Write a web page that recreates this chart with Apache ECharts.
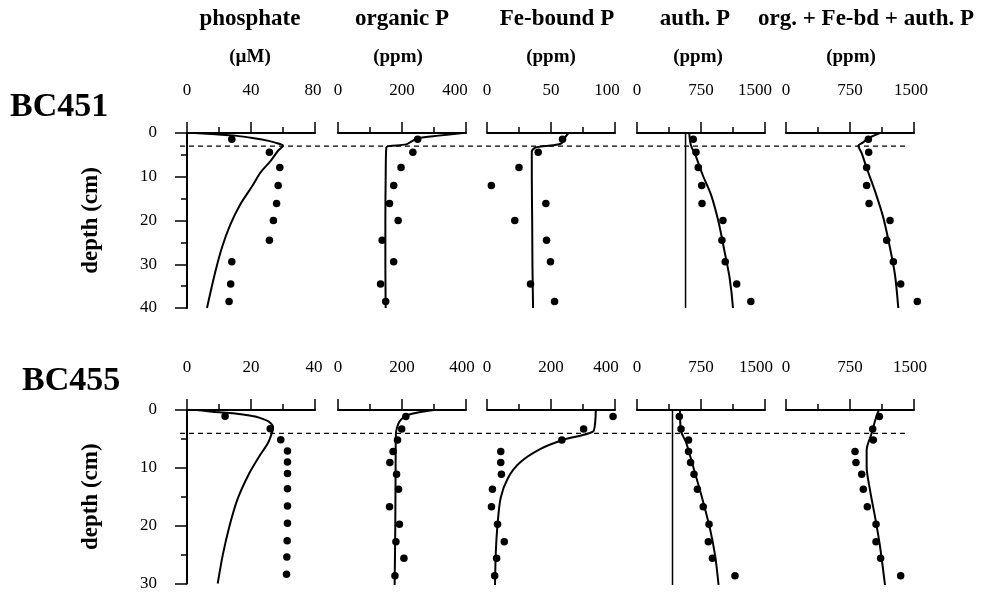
<!DOCTYPE html>
<html><head><meta charset="utf-8">
<script src="https://cdn.jsdelivr.net/npm/echarts@6/dist/echarts.min.js"></script>
<style>html,body{margin:0;padding:0;background:#fff}#c{width:989px;height:592px}</style>
</head><body><div id="c"></div>
<script>
const FONT = '"Liberation Serif","Times New Roman",Times,serif';
const panelTitles = ['phosphate', 'organic P', 'Fe-bound P', 'auth. P', 'org. + Fe-bd + auth. P'];
const panelUnits = ['(µM)', '(ppm)', '(ppm)', '(ppm)', '(ppm)'];
const cores = ['BC451', 'BC455'];
const xMaxTop = [80, 400, 100, 1500, 1500];
const xIntTop = [40, 200, 50, 750, 750];
const xMaxBot = [40, 400, 400, 1500, 1500];
const xIntBot = [20, 200, 200, 750, 750];
const depthMax = [40, 30];
const boundaryDepth = [3, 4];

// ---- BC451 measured samples ----
const depth451 = [1.45, 4.4, 7.9, 12.0, 16.1, 20.0, 24.5, 29.4, 34.5, 38.5];
const phos451 = [28, 51.5, 58, 57, 56, 54, 51.5, 28, 27.3, 26.3];
const orgP451 = [249, 234, 197, 174, 161, 188, 138, 174, 133, 149];
const feP451 = [59, 40, 25, 3.4, 46, 21.7, 46.5, 49.6, 34, 52.8];
const authP451 = [659, 691, 718, 758, 762, 1007, 995, 1034, 1168, 1334];
const sumP451 = [965, 969, 945, 945, 973, 1219, 1180, 1258, 1344, 1539];

// ---- BC451 model curves ----
const cDepthPhos451 = [0, 0.3, 0.6, 1.2, 1.8, 2.4, 2.9, 4, 6.5, 9, 12, 16.5, 21, 26, 32, 40];
const cPhos451 = [5, 18, 30, 42, 51, 57, 60, 57, 52, 46, 41, 33, 27, 22, 17.5, 12.5];
const cDepthOrg451 = [0, 0.6, 1.2, 2.0, 2.6, 3.0, 3.3, 10, 20, 30, 40];
const cOrg451 = [390, 315, 250, 228, 213, 160, 151, 149, 148, 148, 149];
const cDepthFe451 = [0, 1, 2.36, 2.8, 3.1, 3.35, 4.3, 10, 20, 30, 40];
const cFe451 = [63.6, 61, 58.2, 52, 42, 37.6, 35, 35, 35.3, 35.5, 36];
const cDepthAuth451 = [0, 2.8, 5.4, 9.6, 14.2, 20.3, 27.1, 33.2, 40];
const cAuth451 = [612, 632, 691, 770, 869, 955, 1026, 1086, 1125];
const cDepthSum451 = [0, 0.6, 1.2, 2.2, 2.9, 4.6, 8, 13.3, 19.4, 26.3, 32.4, 40];
const cSum451 = [1100, 1030, 965, 900, 848, 887, 945, 1043, 1141, 1219, 1277, 1316];
const refAuth451 = 569;

// ---- BC455 measured samples ----
const depth455 = [1.1, 3.26, 5.14, 7.1, 9.0, 11.0, 13.6, 16.6, 19.6, 22.6, 25.4, 28.4];
const phos455 = [11.9, 26, 29.3, 31.4, 31.4, 31.4, 31.4, 31.4, 31.4, 31.3, 31.2, 31.1];
const orgP455 = [212, 199, 186, 172, 162, 183, 189, 161, 192, 181, 206, 178];
const feP455 = [394, 302, 234, 43, 43, 45, 17, 14, 33, 54, 30, 24];
const authP455 = [496, 516, 604, 604, 628, 668, 708, 776, 844, 836, 884, 1148];
const sumP455 = [1094, 1016, 1023, 809, 820, 887, 906, 953, 1055, 1055, 1109, 1344];

// ---- BC455 model curves ----
const cDepthPhos455 = [0, 0.3, 0.6, 1.0, 1.4, 2.0, 3.0, 4.0, 5.7, 8, 10.9, 15.4, 20, 25, 30];
const cPhos455 = [3, 8, 15, 20, 23, 25.5, 26.9, 26.5, 25.3, 22.6, 19.5, 15.8, 13.3, 11.2, 9.6];
const cDepthOrg455 = [0, 0.3, 0.7, 1.14, 2, 2.9, 4, 10, 20, 30];
const cOrg455 = [300, 262, 228, 208, 192, 185, 181, 180, 179, 177];
const cDepthFe455 = [0, 3.5, 4.0, 4.4, 5.1, 6.7, 9, 11.6, 15, 19.6, 24.3, 30];
const cFe455 = [340, 334, 318, 292, 239, 166, 103, 66, 43, 33, 27.6, 25];
const cDepthAuth455 = [0, 3.6, 5.6, 9.6, 14.7, 20.4, 25, 30];
const cAuth455 = [504, 516, 576, 656, 756, 856, 916, 956];
const cDepthSum455 = [0, 0.2, 1.9, 4, 6.9, 9.7, 13.7, 18.3, 23.4, 30];
const cSum455 = [1090, 1082, 1043, 1004, 945, 945, 984, 1043, 1102, 1160];
const refAuth455 = 416;

// ---- assembling ----
const samples = [
  [depth451, [phos451, orgP451, feP451, authP451, sumP451]],
  [depth455, [phos455, orgP455, feP455, authP455, sumP455]]
];
const curves = [
  [[cDepthPhos451, cPhos451], [cDepthOrg451, cOrg451], [cDepthFe451, cFe451], [cDepthAuth451, cAuth451], [cDepthSum451, cSum451]],
  [[cDepthPhos455, cPhos455], [cDepthOrg455, cOrg455], [cDepthFe455, cFe455], [cDepthAuth455, cAuth455], [cDepthSum455, cSum455]]
];
const refAuth = [refAuth451, refAuth455];
const xMax = [xMaxTop, xMaxBot];
const xInt = [xIntTop, xIntBot];
// leftward nudge (px) of the last tick label of each panel, as in the original typesetting
const maxLabelShift = [[2, 11, 8, 10, 3], [1, 4, 9, 9, 4]];

const panelLeft = [187, 338, 487, 637, 786];
const panelWidth = 128;
const rowTop = [133, 410];
const rowHeight = 175;

const grids = [], xAxes = [], yAxes = [], series = [];
const axisColor = '#000';
const plain = v => String(v);
const labelStyle = { fontSize: 17, color: '#000', fontFamily: FONT };

for (let r = 0; r < 2; r++) {
  for (let p = 0; p < 5; p++) {
    const gi = grids.length;
    const mx = xMax[r][p];
    const shift = maxLabelShift[r][p];
    grids.push({ left: panelLeft[p], top: rowTop[r], width: panelWidth, height: rowHeight });
    xAxes.push({
      gridIndex: gi, type: 'value', position: 'top', min: 0, max: mx, interval: xInt[r][p],
      axisLine: { show: true, lineStyle: { color: axisColor, width: 2 } },
      axisTick: { show: true, length: 11, lineStyle: { color: axisColor, width: 1.5 } },
      minorTick: { show: true, splitNumber: 2, length: 6, lineStyle: { color: axisColor, width: 1.5 } },
      axisLabel: Object.assign({
        margin: 34,
        formatter: v => (v === mx ? '{e|' + v + '}' : '{n|' + v + '}'),
        rich: {
          n: Object.assign({}, labelStyle),
          e: Object.assign({ padding: [0, shift * 2, 0, 0] }, labelStyle)
        }
      }, labelStyle),
      splitLine: { show: false }, minorSplitLine: { show: false }
    });
    const ya = {
      gridIndex: gi, type: 'value', inverse: true, min: 0, max: depthMax[r], interval: 10,
      show: p === 0,
      axisLine: { show: true, lineStyle: { color: axisColor, width: 2 } },
      axisTick: { show: true, length: 12, lineStyle: { color: axisColor, width: 1.5 } },
      minorTick: { show: true, splitNumber: 2, length: 6, lineStyle: { color: axisColor, width: 1.5 } },
      axisLabel: Object.assign({ margin: 30, formatter: plain }, labelStyle),
      splitLine: { show: false }, minorSplitLine: { show: false }
    };
    if (p === 0) {
      ya.name = 'depth (cm)';
      ya.nameLocation = 'middle';
      ya.nameRotate = 90;
      ya.nameGap = 84;
      ya.nameTextStyle = { fontSize: 23, fontWeight: 'bold', color: '#000', fontFamily: FONT };
    }
    yAxes.push(ya);

    const [cd, cv] = curves[r][p];
    series.push({
      type: 'line', xAxisIndex: gi, yAxisIndex: gi, symbol: 'none', smooth: 0.3, clip: false,
      lineStyle: { color: '#000', width: 2 },
      data: cv.map((v, i) => [v, cd[i]]), z: 3
    });
    const [sd, vals] = samples[r];
    series.push({
      type: 'scatter', xAxisIndex: gi, yAxisIndex: gi, symbol: 'circle', symbolSize: 7.5, clip: false,
      itemStyle: { color: '#000', opacity: 1 },
      data: vals[p].map((v, i) => [v, sd[i]]), z: 4
    });
    if (p === 3) {
      series.push({
        type: 'line', xAxisIndex: gi, yAxisIndex: gi, symbol: 'none',
        lineStyle: { color: '#000', width: 1.5 },
        data: [[refAuth[r], 0], [refAuth[r], depthMax[r]]], z: 2
      });
    }
  }
}

// overlay grids for the dashed boundary line spanning all panels
for (let r = 0; r < 2; r++) {
  const gi = grids.length;
  grids.push({ left: 180, top: rowTop[r], width: 728, height: rowHeight });
  xAxes.push({ gridIndex: gi, type: 'value', min: 0, max: 1, show: false });
  yAxes.push({ gridIndex: gi, type: 'value', inverse: true, min: 0, max: depthMax[r], show: false });
  series.push({
    type: 'line', xAxisIndex: gi, yAxisIndex: gi, symbol: 'none',
    lineStyle: { color: '#000', width: 1.3, type: [5, 4] },
    data: [[0, boundaryDepth[r]], [1, boundaryDepth[r]]], z: 1
  });
}

const titleX = [250, 402, 557, 695, 866];
const unitX = [250, 398, 551, 698, 851];
const graphics = [];
panelTitles.forEach((t, i) => graphics.push({
  type: 'text', x: titleX[i], y: 19,
  style: { text: t, fill: '#000', font: 'bold 23px ' + FONT, textAlign: 'center', textVerticalAlign: 'middle' }
}));
panelUnits.forEach((t, i) => graphics.push({
  type: 'text', x: unitX[i], y: 57,
  style: { text: t, fill: '#000', font: 'bold 19px ' + FONT, textAlign: 'center', textVerticalAlign: 'middle' }
}));
const coreX = [10, 22], coreY = [107, 381];
cores.forEach((t, i) => graphics.push({
  type: 'text', x: coreX[i], y: coreY[i],
  style: { text: t, fill: '#000', font: 'bold 34px ' + FONT, textAlign: 'left', textVerticalAlign: 'middle' }
}));

const chart = echarts.init(document.getElementById('c'), null, { renderer: 'canvas' });
chart.setOption({
  backgroundColor: '#fff',
  animation: false,
  grid: grids, xAxis: xAxes, yAxis: yAxes, series: series,
  graphic: graphics
});
</script></body></html>
